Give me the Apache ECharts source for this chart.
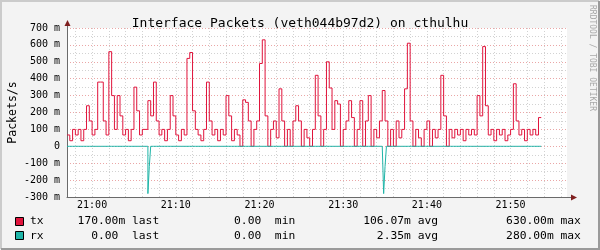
<!DOCTYPE html>
<html><head><meta charset="utf-8">
<script src="https://cdn.jsdelivr.net/npm/echarts@6/dist/echarts.min.js"></script>
<style>html,body{margin:0;padding:0;background:#F3F3F3}#c{width:600px;height:250px}</style>
</head><body><div id="c"></div>
<script>
// ---------------- data ----------------
const titleText = 'Interface Packets (veth044b97d2) on cthulhu';
const yAxisTitle = 'Packets/s';
const watermark = 'RRDTOOL / TOBI OETIKER';
const seriesNames = ['tx', 'rx'];
const startMinute = -3;          // data start, minutes relative to 21:00 (20:57)
const windowMinutes = 59.74;     // visible time span
const txStepSec = 20;
const rxStepSec = 10;
// packets/s in milli-units (m)
const txMilli = [
  67,33,100,67,100,33,100,240,150,67,
  100,380,380,150,67,560,300,100,300,180,
  67,100,33,100,350,210,67,100,100,270,
  180,380,150,67,100,33,100,300,180,67,
  33,100,67,520,555,210,100,67,33,100,
  380,150,67,100,33,100,67,300,180,33,
  100,67,0,275,260,150,0,100,150,490,
  630,180,0,100,150,50,340,150,0,100,
  0,150,240,150,0,100,50,0,100,420,
  180,0,100,500,345,100,270,250,0,100,
  150,270,170,0,100,270,0,150,300,0,
  100,50,150,330,150,0,100,0,150,50,
  100,340,610,150,0,100,50,0,100,150,
  0,100,50,100,420,180,0,100,50,100,
  67,100,33,100,67,100,67,300,180,590,
  240,67,100,33,100,67,100,33,67,100,
  370,150,67,100,33,100,67,100,67,170
];
const rxMilli = [
  0,0,0,0,0,0,0,0,0,0, 0,0,0,0,0,0,0,0,0,0,
  0,0,0,0,0,0,0,0,0,0, 0,0,0,0,0,0,0,0,0,0,
  0,0,0,0,0,0,0,0,0,0, 0,0,0,0,0,0,0,0,-280,-120,
  0,0,0,0,0,0,0,0,0,0, 0,0,0,0,0,0,0,0,0,0,
  0,0,0,0,0,0,0,0,0,0, 0,0,0,0,0,0,0,0,0,0,
  0,0,0,0,0,0,0,0,0,0, 0,0,0,0,0,0,0,0,0,0,
  0,0,0,0,0,0,0,0,0,0, 0,0,0,0,0,0,0,0,0,0,
  0,0,0,0,0,0,0,0,0,0, 0,0,0,0,0,0,0,0,0,0,
  0,0,0,0,0,0,0,0,0,0, 0,0,0,0,0,0,0,0,0,0,
  0,0,0,0,0,0,0,0,0,0, 0,0,0,0,0,0,0,0,0,0,
  0,0,0,0,0,0,0,0,0,0, 0,0,0,0,0,0,0,0,0,0,
  0,0,0,0,0,0,0,-280,-120,0, 0,0,0,0,0,0,0,0,0,0,
  0,0,0,0,0,0,0,0,0,0, 0,0,0,0,0,0,0,0,0,0,
  0,0,0,0,0,0,0,0,0,0, 0,0,0,0,0,0,0,0,0,0,
  0,0,0,0,0,0,0,0,0,0, 0,0,0,0,0,0,0,0,0,0,
  0,0,0,0,0,0,0,0,0,0, 0,0,0,0,0,0,0,0,0,0,
  0,0,0,0,0,0,0,0,0,0, 0,0,0,0,0,0,0,0,0,0
];
const statLabels = ['last', 'min', 'avg', 'max'];
const txStats = ['170.00m', '0.00 ', '106.07m', '630.00m'];
const rxStats = ['0.00 ', '0.00 ', '2.35m', '280.00m'];

// ---------------- styles ----------------
const MONO = '"DejaVu Sans Mono", monospace';
const TX = '#E0143C', RX = '#1FB5A8';
const AXIS = '#6A6A6A', ARROW = '#7F1F1F';
const MGRID = '#EAA6A6', GRID = '#D2D2D2';
const seriesColors = [TX, RX];
const seriesStats = [txStats, rxStats];

function pts(vals, stepSec) {
  const step = stepSec / 60;
  const out = vals.map((v, i) => [startMinute + i * step, v]);
  out.push([startMinute + vals.length * step, vals[vals.length - 1]]);
  return out;
}
function legendRow(name, st) {
  return name.padEnd(2) + st[0].padStart(12) + ' ' + statLabels[0] +
    st[1].padStart(16) + ' ' + statLabels[1] +
    st[2].padStart(17) + ' ' + statLabels[2] +
    st[3].padStart(17) + ' ' + statLabels[3];
}
function timeLabel(v) {
  const tot = Math.round(21 * 60 + v);
  const h = Math.floor(tot / 60), m = tot % 60;
  return h + ':' + String(m).padStart(2, '0');
}

const legendGraphics = [];
seriesNames.forEach((name, k) => {
  const cy = 221.5 + k * 14.5;
  legendGraphics.push({type: 'rect', silent: true, shape: {x: 15.5, y: Math.round(cy) - 4.5, width: 8, height: 8},
    style: {fill: seriesColors[k], stroke: '#000', lineWidth: 1}});
  legendGraphics.push({type: 'text', silent: true, x: 30, y: cy,
    style: {text: legendRow(name, seriesStats[k]), fontFamily: MONO, fontSize: 11.3, fill: '#000', textAlign: 'left', textVerticalAlign: 'middle'}});
});

const chart = echarts.init(document.getElementById('c'), null, {renderer: 'canvas'});
const X_MIN = startMinute, X_MAX = startMinute + windowMinutes;
chart.setOption({
  backgroundColor: '#F3F3F3',
  animation: false,
  title: {
    text: titleText, left: 'center', top: 12,
    textStyle: {fontFamily: MONO, fontSize: 13, fontWeight: 'normal', color: '#000', lineHeight: 14}
  },
  grid: {left: 67, top: 28, width: 500, height: 169, show: true, backgroundColor: '#fff', borderWidth: 0,
    containLabel: false, outerBoundsMode: 'none'},
  xAxis: [{
    type: 'value', min: X_MIN, max: X_MAX, splitNumber: 6,
    axisLine: {show: true, onZero: false, lineStyle: {color: AXIS, width: 1}},
    axisTick: {show: false},
    axisLabel: {showMinLabel: false, showMaxLabel: false, margin: 3, fontFamily: MONO, fontSize: 10, color: '#000', formatter: timeLabel},
    splitLine: {show: true, showMinLine: false, showMaxLine: false, lineStyle: {color: MGRID, type: [1, 2], width: 1}}
  }, {
    type: 'value', min: X_MIN, max: X_MAX, splitNumber: 30, position: 'bottom',
    axisLine: {show: false}, axisTick: {show: false}, axisLabel: {show: false},
    splitLine: {show: true, showMinLine: false, showMaxLine: false, lineStyle: {color: GRID, type: [1, 2], width: 1}}
  }],
  yAxis: {
    type: 'value', min: -300, max: 700, interval: 100,
    axisLine: {show: true, onZero: false, lineStyle: {color: AXIS, width: 1}},
    axisTick: {show: false},
    axisLabel: {margin: 7, fontFamily: MONO, fontSize: 10, color: '#000', formatter: v => v === 0 ? '0' : v + ' m'},
    splitLine: {show: true, lineStyle: {color: MGRID, type: [1, 2], width: 1}},
    minorTick: {show: false, splitNumber: 2},
    minorSplitLine: {show: true, lineStyle: {color: GRID, type: [1, 2], width: 1}},
    name: yAxisTitle, nameLocation: 'middle', nameGap: 48, nameRotate: 90, nameMoveOverlap: false,
    nameTextStyle: {fontFamily: MONO, fontSize: 11.5, color: '#000'}
  },
  series: [{
    name: 'tx', type: 'line', xAxisIndex: 0, step: 'end', symbol: 'none', data: pts(txMilli, txStepSec),
    lineStyle: {color: TX, width: 1}, itemStyle: {color: TX}, z: 3
  }, {
    name: 'rx', type: 'line', xAxisIndex: 0, step: 'end', symbol: 'none', data: pts(rxMilli, rxStepSec),
    lineStyle: {color: RX, width: 1}, itemStyle: {color: RX}, z: 4
  }],
  graphic: [
    {type: 'polyline', silent: true, shape: {points: [[1, 249], [1, 1], [599, 1]]}, style: {stroke: '#CBCBCB', lineWidth: 2, fill: null}},
    {type: 'polyline', silent: true, shape: {points: [[1, 249], [599, 249], [599, 1]]}, style: {stroke: '#9A9A9A', lineWidth: 2, fill: null}},
    {type: 'line', silent: true, shape: {x1: 67.5, y1: 28, x2: 67.5, y2: 24}, style: {stroke: AXIS, lineWidth: 1}},
    {type: 'polygon', silent: true, shape: {points: [[64.5, 26], [70.5, 26], [67.5, 20]]}, style: {fill: ARROW}},
    {type: 'line', silent: true, shape: {x1: 567, y1: 197.5, x2: 572, y2: 197.5}, style: {stroke: AXIS, lineWidth: 1}},
    {type: 'polygon', silent: true, shape: {points: [[571, 194.5], [571, 200.5], [577, 197.5]]}, style: {fill: ARROW}},
    {type: 'text', silent: true, x: 596, y: 5, rotation: -Math.PI / 2,
      style: {text: watermark, fontFamily: MONO, fontSize: 8, fill: '#A8A8A8', textAlign: 'left', textVerticalAlign: 'top'}}
  ].concat(legendGraphics)
});
</script></body></html>
